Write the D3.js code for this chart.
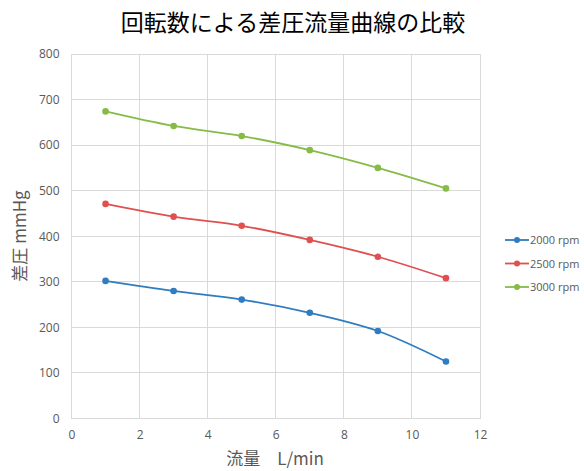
<!DOCTYPE html>
<html><head><meta charset="utf-8">
<script src="https://cdn.jsdelivr.net/npm/d3@7"></script>
<style>body{margin:0;background:#fff;} svg{display:block;font-family:"Noto Sans CJK JP","Noto Sans",sans-serif;}</style>
</head><body>
<svg id="c" width="584" height="471"></svg>
<script>
const flows = [1, 3, 5, 7, 9, 11];
const rpm2000 = [302, 280, 261, 232, 192, 125];
const rpm2500 = [471, 443, 423, 392, 355, 308];
const rpm3000 = [674, 642, 620, 589, 550, 505];
const seriesNames = ["2000 rpm", "2500 rpm", "3000 rpm"];
const seriesColors = ["#2f7cc0", "#e05050", "#86bb46"];
const xTicks = [0, 2, 4, 6, 8, 10, 12];
const yTicks = [0, 100, 200, 300, 400, 500, 600, 700, 800];
const title = "回転数による差圧流量曲線の比較";
const xTitle = "流量\u3000L/min";
const yTitle = "差圧 mmHg";

const series = [rpm2000, rpm2500, rpm3000];
const svg = d3.select("#c");
const x = d3.scaleLinear().domain([0, 12]).range([71.5, 480]);
const y = d3.scaleLinear().domain([0, 800]).range([418.5, 54]);

// gridlines
svg.append("g").selectAll("line.v").data(xTicks).join("line")
  .attr("x1", d => x(d)).attr("x2", d => x(d)).attr("y1", y(800)).attr("y2", y(0))
  .attr("stroke", "#d9d9d9").attr("stroke-width", 1).attr("shape-rendering","crispEdges");
svg.append("g").selectAll("line.h").data(yTicks).join("line")
  .attr("x1", x(0)).attr("x2", x(12)).attr("y1", d => y(d)).attr("y2", d => y(d))
  .attr("stroke", "#d9d9d9").attr("stroke-width", 1).attr("shape-rendering","crispEdges");

// axes labels
const xa = svg.append("g").attr("transform", `translate(0,${y(0)})`)
  .call(d3.axisBottom(x).tickValues(xTicks).tickSize(0).tickPadding(12));
xa.select(".domain").remove();
xa.selectAll("text").attr("fill", "#595959").attr("font-size", 12).attr("font-family", "'Open Sans',sans-serif");
const ya = svg.append("g").attr("transform", `translate(${x(0)},0)`)
  .call(d3.axisLeft(y).tickValues(yTicks).tickSize(0).tickPadding(12));
ya.select(".domain").remove();
ya.selectAll("text").attr("fill", "#595959").attr("font-size", 12).attr("font-family", "'Open Sans',sans-serif");

// lines
const line = d3.line().x((d, i) => x(flows[i])).y(d => y(d)).curve(d3.curveCatmullRom.alpha(0.5));
series.forEach((s, k) => {
  svg.append("path").attr("d", line(s)).attr("fill", "none")
    .attr("stroke", seriesColors[k]).attr("stroke-width", 1.8);
  svg.append("g").selectAll("circle").data(s).join("circle")
    .attr("cx", (d, i) => x(flows[i])).attr("cy", d => y(d)).attr("r", 3.3)
    .attr("fill", seriesColors[k]);
});

// title
svg.append("text").attr("x", 293).attr("y", 31).attr("text-anchor", "middle")
  .attr("font-size", 23).attr("fill", "#000").text(title);
// axis titles
svg.append("text").attr("x", 275).attr("y", 465).attr("text-anchor", "middle")
  .attr("font-size", 17).attr("fill", "#595959").text(xTitle);
svg.append("text").attr("transform", "translate(26,236) rotate(-90)").attr("text-anchor", "middle")
  .attr("font-size", 17).attr("fill", "#595959").text(yTitle);

// legend
const lg = svg.append("g");
seriesNames.forEach((n, k) => {
  const ly = 240 + k * 23.5;
  lg.append("line").attr("x1", 505).attr("x2", 529).attr("y1", ly).attr("y2", ly)
    .attr("stroke", seriesColors[k]).attr("stroke-width", 1.8);
  lg.append("circle").attr("cx", 517).attr("cy", ly).attr("r", 3).attr("fill", seriesColors[k]);
  lg.append("text").attr("x", 530).attr("y", ly + 4).attr("font-size", 11)
    .attr("fill", "#595959").attr("font-family", "'Open Sans',sans-serif").text(n);
});
</script>
</body></html>
